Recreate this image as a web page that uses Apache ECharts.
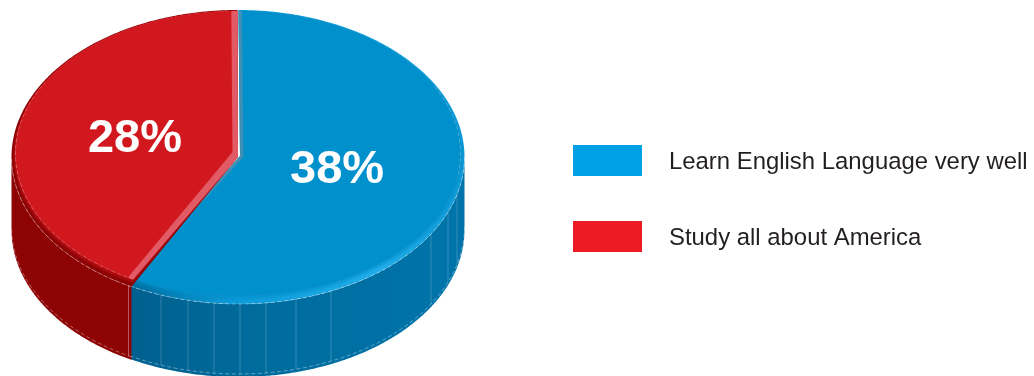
<!DOCTYPE html>
<html>
<head>
<meta charset="utf-8">
<style>html,body{margin:0;padding:0;background:#fff}#chart{width:1034px;height:376px}</style>
<script src="https://cdn.jsdelivr.net/npm/echarts@6/dist/echarts.min.js"></script>
</head>
<body>
<div id="chart"></div>
<script>
// Survey answers, in percent
const categories = ['Learn English Language very well', 'Study all about America'];
const percents = [38, 28];
const legendColors = ['#00A0E4', '#ED1C24'];

// Tilted-disc geometry
const disc = {
  cx: 237.5, depth: 73,
  outer: { cy: 157, rx: 226, ry: 147 },
  inner: { cy: 153.5, rx: 222, ry: 142.5 },
  labelRadius: 0.46, labelCx: 236, labelCy: 154.5
};

// Per-slice appearance; the blue slice tucks slightly under the red cut edge
const looks = [
  {
    shift: 1, inset: 0, overlap: 1.5, face: '#0090CC', bevel: '#3F8FB5',
    apex: [240, 156], faceApex: [243.5, 157], trimStart: 0.9, trimEnd: 0,
    rim: [[0, '#006E9F'], [0.3, '#0C9AD8'], [0.75, '#20ADE9'], [1, '#0C98D4']],
    wall: [[0, '#00608E'], [0.4, '#006C9E'], [1, '#0074AA']],
    facets: [161, 188, 214, 240, 266, 296, 331, 431, 448, 457],
    innerDash: [62, 100], outerDash: [90, 208]
  },
  {
    shift: 0, inset: 0.7, overlap: 0, face: '#D2181F', bevel: '#E25A65',
    apex: [238, 157], faceApex: [232.5, 152], trimStart: 1.6, trimEnd: 1.6,
    rim: [[0, '#8E0405'], [1, '#8E0405']],
    wall: [[0, '#8E0405'], [1, '#8E0405']],
    facets: [128.5],
    innerDash: [208, 300], outerDash: [208, 270]
  }
];

const total = percents.reduce((a, b) => a + b, 0);
const rad = d => d * Math.PI / 180;

// Point on an ellipse; angle runs clockwise from twelve o'clock
function onEllipse(e, deg, shift, dy) {
  return [disc.cx + shift + e.rx * Math.sin(rad(deg)), e.cy + (dy || 0) - e.ry * Math.cos(rad(deg))];
}
function arc(e, from, to, shift, dy) {
  const pts = [];
  const n = Math.max(2, Math.ceil(Math.abs(to - from) / 0.5));
  for (let i = 0; i <= n; i++) pts.push(onEllipse(e, from + (to - from) * i / n, shift, dy));
  return pts;
}
function lerpEllipse(a, b, t) {
  return { cy: a.cy + (b.cy - a.cy) * t, rx: a.rx + (b.rx - a.rx) * t, ry: a.ry + (b.ry - a.ry) * t };
}
const hGrad = stops => new echarts.graphic.LinearGradient(0, 0, 1, 0,
  stops.map(s => ({ offset: s[0], color: s[1] })));
const poly = (points, fill, opacity) => ({
  type: 'polygon', silent: true, shape: { points },
  style: { fill, opacity: opacity === undefined ? 1 : opacity }
});
const dashed = (points, opacity) => ({
  type: 'polyline', silent: true, shape: { points },
  style: { fill: 'none', stroke: '#fff', lineWidth: 0.7, lineDash: [4, 2.5], opacity }
});

function sliceRenderer(index) {
  return function (params, api) {
    const look = looks[index];
    const before = percents.slice(0, index).reduce((a, b) => a + b, 0);
    const a0 = before / total * 360;
    const a1 = (before + api.value(0)) / total * 360;
    const s = look.shift;
    const start = a0 + look.inset;
    const end = a1 + look.overlap;
    const { outer, inner } = disc;
    const children = [];

    // Outer wall: only the part of the cylinder that faces the viewer
    const wFrom = Math.max(start, 90), wTo = Math.min(end, 270);
    if (wTo > wFrom) {
      children.push(poly(
        arc(outer, wFrom, wTo, s).concat(arc(outer, wTo, wFrom, s, disc.depth)),
        hGrad(look.wall)
      ));
    }

    // Rim around the top face, softened toward the face colour
    children.push(poly([look.apex].concat(arc(outer, start, end, s)), hGrad(look.rim)));
    [0.55, 0.8].forEach(t => {
      children.push(poly([look.apex].concat(arc(lerpEllipse(outer, inner, t), start, end, s)), look.face, 0.35));
    });

    // Bevelled cut edge, then the flat top face
    children.push(poly([look.apex].concat(arc(inner, start, end, s)), look.bevel));
    children.push(poly(
      [look.faceApex].concat(arc(inner, start + look.trimStart, end - look.trimEnd, s)),
      look.face
    ));

    // Facet seams on the wall
    look.facets.forEach(x => {
      const u = (x - disc.cx - s) / outer.rx;
      const y = outer.cy + outer.ry * Math.sqrt(1 - u * u);
      children.push({
        type: 'line', silent: true,
        shape: { x1: x, y1: y, x2: x, y2: y + disc.depth - 3 },
        style: { stroke: '#fff', lineWidth: 1, opacity: index === 0 ? 0.2 : 0.35 }
      });
    });

    // Stitched contour lines
    children.push(dashed(arc(inner, look.innerDash[0], look.innerDash[1], s), 0.35));
    children.push(dashed(arc(outer, look.outerDash[0], look.outerDash[1], s), 0.55));
    children.push(dashed(arc(outer, wFrom, wTo, s, disc.depth - 3), 0.55));

    // Percentage label at the slice's mid-angle
    const mid = rad((a0 + a1) / 2);
    children.push({
      type: 'text', silent: true,
      style: {
        text: api.value(0) + '%',
        x: disc.labelCx + disc.labelRadius * outer.rx * Math.sin(mid),
        y: disc.labelCy - disc.labelRadius * outer.ry * Math.cos(mid),
        fill: '#fff', align: 'center', verticalAlign: 'middle',
        font: 'bold 47px "Liberation Sans", Arial, sans-serif'
      }
    });
    return { type: 'group', children };
  };
}

const legendFont = { color: '#231F20', fontSize: 23.9, fontFamily: '"Liberation Sans", Arial, sans-serif' };

const chart = echarts.init(document.getElementById('chart'), null, { renderer: 'canvas' });
chart.setOption({
  animation: false,
  backgroundColor: '#fff',
  legend: {
    orient: 'vertical', left: 573, top: 145, padding: 0,
    itemWidth: 69, itemHeight: 31, itemGap: 45,
    selectedMode: false,
    formatter: '{t|{name}}',
    textStyle: {
      ...legendFont,
      padding: [0, 0, 0, 22],
      rich: { t: { ...legendFont, padding: [4, 0, 0, 0], verticalAlign: 'bottom' } }
    },
    data: categories.map((name, i) => ({
      name, icon: 'rect', itemStyle: { color: legendColors[i], borderWidth: 0 }
    }))
  },
  series: categories.map((name, i) => ({
    type: 'custom', name, coordinateSystem: 'none',
    itemStyle: { color: legendColors[i] },
    renderItem: sliceRenderer(i),
    data: [[percents[i]]]
  }))
});
</script>
</body>
</html>
